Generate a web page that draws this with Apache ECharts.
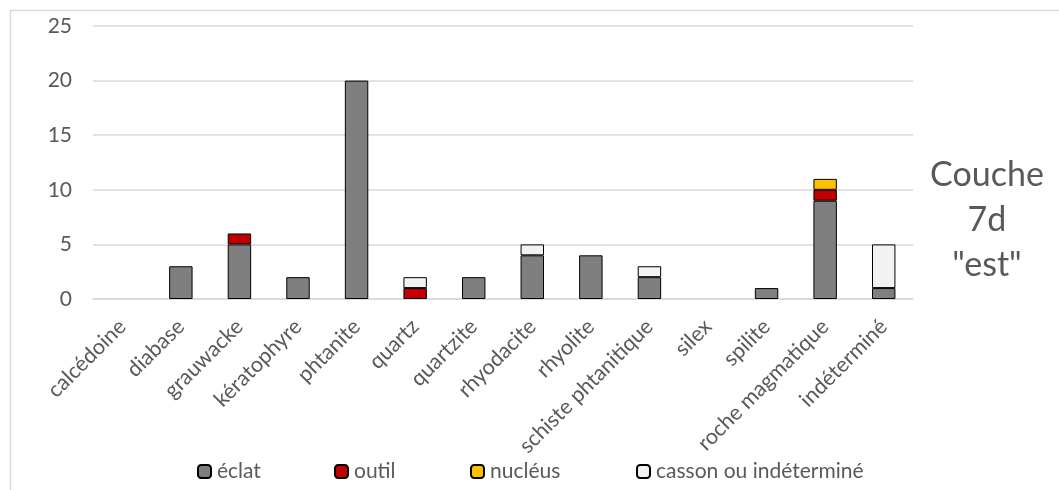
<!DOCTYPE html>
<html><head><meta charset="utf-8">
<script src="https://cdn.jsdelivr.net/npm/echarts@6/dist/echarts.min.js"></script>
<style>html,body{margin:0;padding:0;background:#fff}#c{width:1059px;height:490px}</style>
</head><body><div id="c"></div>
<script>
const categories = ['calcédoine','diabase','grauwacke','kératophyre','phtanite','quartz','quartzite','rhyodacite','rhyolite','schiste phtanitique','silex','spilite','roche magmatique','indéterminé'];
const eclat   = [0,3,5,2,20,0,2,4,4,2,0,1,9,1];
const outil   = [0,0,1,0,0,1,0,0,0,0,0,0,1,0];
const nucleus = [0,0,0,0,0,0,0,0,0,0,0,0,1,0];
const casson  = [0,0,0,0,0,1,0,1,0,1,0,0,0,4];
const seriesNames = ['éclat','outil','nucléus','casson ou indéterminé'];
const yTicks = [0,5,10,15,20,25];
const titleText = 'Couche\n7d\n"est"';

const FONT = 'Lato';
const colors = ['#7f7f7f','#c00000','#ffc000','#f2f2f2'];
const vals = [eclat, outil, nucleus, casson];
const legendLeft = [192,329,465,631];
const chart = echarts.init(document.getElementById('c'));
chart.setOption({
  animation:false,
  textStyle:{fontFamily:FONT},
  graphic:[{type:'rect',shape:{x:10.5,y:10.5,width:1200,height:700},style:{fill:'none',stroke:'#d9d9d9',lineWidth:1.5},silent:true}],
  title:{text:titleText,left:982,top:148,textAlign:'center',textStyle:{fontFamily:FONT,fontSize:34,fontWeight:'normal',color:'#595959',lineHeight:45}},
  grid:{left:93,right:146,top:26,bottom:191,containLabel:false},
  legend: seriesNames.map((n,i)=>({left:legendLeft[i],top:456,itemWidth:13,itemHeight:13,itemGap:0,
    textStyle:{fontFamily:FONT,fontSize:21,color:'#595959',padding:[0,0,0,1]},
    data:[n]})),
  xAxis:{type:'category',data:categories,
    axisLine:{lineStyle:{color:'#d9d9d9',width:1.5}},axisTick:{show:false},
    axisLabel:{rotate:45,fontSize:21.5,color:'#595959',fontFamily:FONT,margin:24,interval:0}},
  yAxis:{type:'value',min:yTicks[0],max:yTicks[yTicks.length-1],interval:5,
    axisLine:{show:false},axisTick:{show:false},
    splitLine:{lineStyle:{color:'#d9d9d9',width:1.5}},
    axisLabel:{fontSize:21,color:'#595959',fontFamily:FONT,margin:21}},
  series: seriesNames.map((n,i)=>({
    name:n,type:'bar',stack:'s',barWidth:'40%',
    data:vals[i].map(v=>v===0?null:v),
    itemStyle:{color:colors[i],borderColor:'#000',borderWidth:1}
  }))
});
</script></body></html>
